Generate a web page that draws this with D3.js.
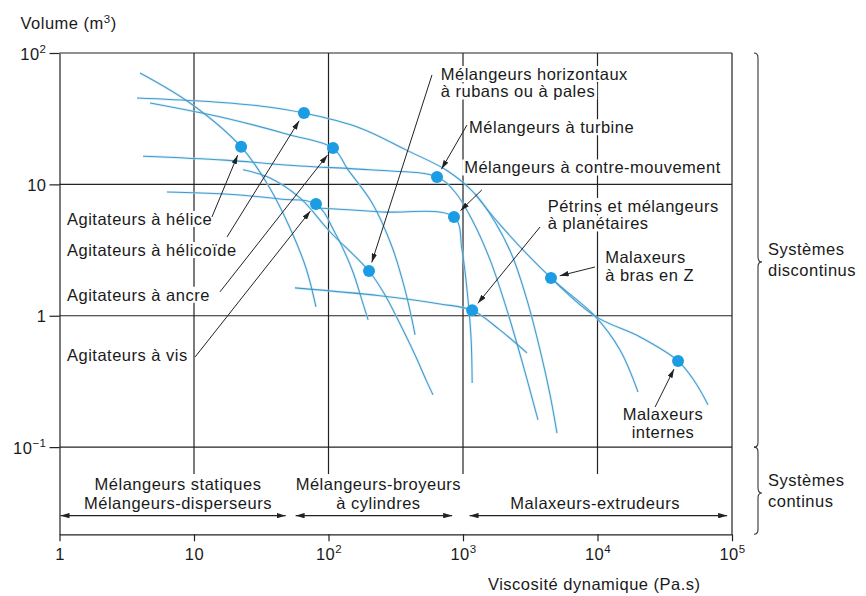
<!DOCTYPE html>
<html>
<head>
<meta charset="utf-8">
<script src="https://cdn.jsdelivr.net/npm/d3@7"></script>
<style>
body { margin: 0; background: #fff; }
text { font-family: "Liberation Sans", Arial, sans-serif; font-size: 16.5px; letter-spacing: 0.5px; fill: #1a1a1a; }
</style>
</head>
<body>
<svg id="chart" width="866" height="596"></svg>
<script>
// axis ticks
var xTicks = [1, 10, 100, 1000, 10000, 100000];
var xTickBase = ["1", "10", "10", "10", "10", "10"];
var xTickExp = ["", "", "2", "3", "4", "5"];
var yTicks = [100, 10, 1, 0.1];
var yTickBase = ["10", "10", "1", "10"];
var yTickExp = ["2", "", "", "\u22121"];

// curves [viscosity Pa.s, volume m3]
var helice = [[3.97,70.4],[9.34,41.6],[22.4,19.3],[35.5,9.9],[51.7,4.66],[68.0,2.31],[80.7,1.17]];
var helicoide = [[3.77,45.5],[11.1,43.1],[30.9,39.5],[65.7,34.9],[171,26.9],[377,18.3],[774,12.6],[1230,8.45],[1730,5.17],[2310,2.90],[2990,1.32],[3740,0.549],[4440,0.250],[5000,0.128]];
var ancre = [[4.71,41.6],[17.0,32.0],[51.7,23.8],[108,18.9],[140,12.9],[211,7.22],[297,3.34],[371,1.57],[418,0.929],[440,0.714]];
var vis = [[6.30,8.75],[17.0,8.45],[43.6,7.74],[80.7,7.09],[112,4.27],[150,2.23],[177,1.32],[197,0.929]];
var rubans = [[23.1,12.9],[36.7,11.2],[61.4,7.88],[103,4.34],[200,2.19],[263,1.44],[329,0.929],[440,0.503],[531,0.325],[598,0.250]];
var turbine = [[4.18,16.4],[17.0,15.3],[61.4,13.8],[204,12.9],[641,11.4],[872,8.75],[1170,5.36],[1590,2.66],[2120,1.11],[2790,0.425],[3610,0.161]];
var contre = [[83.6,6.61],[250,6.17],[857,5.65],[983,3.17],[1090,1.32],[1150,0.654],[1170,0.308]];
var petrins = [[56.3,1.63],[241,1.42],[675,1.23],[1170,1.10],[1880,0.780],[2990,0.521]];
var brasZ = [[1230,8.45],[1950,4.74],[4510,1.94],[9580,0.993],[14700,0.549],[20000,0.263]];
var internes = [[4510,1.94],[9580,0.993],[20700,0.690],[39700,0.453],[53100,0.313],[66300,0.210]];
var curves = [helice, helicoide, ancre, vis, rubans, turbine, contre, petrins, brasZ, internes];

// typical points
var dotVisc = [22.4, 65.7, 108, 80.7, 200, 641, 857, 1170, 4510, 39700];
var dotVol = [19.3, 34.9, 18.9, 7.09, 2.19, 11.4, 5.65, 1.10, 1.94, 0.453];

// labels: text lines, anchor [visc, vol], arrow start [visc, vol]
var labelLines = [
  ["Agitateurs à hélice"],
  ["Agitateurs à hélicoïde"],
  ["Agitateurs à ancre"],
  ["Agitateurs à vis"],
  ["Mélangeurs horizontaux", "à rubans ou à pales"],
  ["Mélangeurs à turbine"],
  ["Mélangeurs à contre-mouvement"],
  ["Pétrins et mélangeurs", "à planétaires"],
  ["Malaxeurs", "à bras en Z"],
  ["Malaxeurs", "internes"]
];
var labelAt = [[1.137,4.91],[1.137,2.85],[1.137,1.30],[1.137,0.453],[683,62.3],[1110,24.5],[1020,12.1],[4260,6.17],[11400,2.52],[30700,0.160]];
var arrowFrom = [[13.6,5.65],[17.6,3.98],[15.6,1.52],[10.2,0.486],[588,68.0],[1070,28.3],[1380,9.07],[3740,4.74],[9580,2.35],[26800,0.202]];

// continuous systems
var rangeLines = [["Mélangeurs statiques", "Mélangeurs-disperseurs"], ["Mélangeurs-broyeurs", "à cylindres"], ["Malaxeurs-extrudeurs"]];
var rangeFrom = [1, 56, 1100];
var rangeTo = [48, 830, 92000];
var rangeCenter = [7.6, 235, 9600];

var yBottom = 0.0217, gridBottom = 0.0625, rangeLevel = 0.0301;
var line1Vol = 0.0472, line2Vol = 0.0339;
var braceTips = [2.57, 0.0448];

var svg = d3.select("#chart");
var x = d3.scaleLog().domain([1, 1e5]).range([59.5, 732]);
var y = d3.scaleLog().domain([yBottom, 100]).range([534.3, 53]);

var defs = svg.append("defs");
defs.append("marker").attr("id", "head")
  .attr("viewBox", "0 0 10 6").attr("refX", 10).attr("refY", 3)
  .attr("markerWidth", 9).attr("markerHeight", 5.5).attr("markerUnits", "userSpaceOnUse")
  .attr("orient", "auto-start-reverse")
  .append("path").attr("d", "M0,0L10,3L0,6z").attr("fill", "#222");

// grid
var grid = svg.append("g").attr("stroke", "#222").attr("stroke-width", 1.2);
grid.selectAll("line.v").data([10, 100, 1000, 10000]).join("line")
  .attr("x1", function (d) { return x(d); }).attr("x2", function (d) { return x(d); })
  .attr("y1", y(100)).attr("y2", y(gridBottom));
grid.selectAll("line.h").data([10, 1, 0.1]).join("line")
  .attr("x1", x(1)).attr("x2", x(1e5))
  .attr("y1", function (d) { return y(d); }).attr("y2", function (d) { return y(d); });
grid.append("line").attr("x1", x(1)).attr("x2", x(1e5)).attr("y1", y(100)).attr("y2", y(100));
grid.append("line").attr("x1", x(1e5)).attr("x2", x(1e5)).attr("y1", y(100)).attr("y2", y(yBottom));

// axes
function supText(sel, bases, exps) {
  sel.text(null).each(function (d, i) {
    var t = d3.select(this);
    t.append("tspan").text(bases[i]);
    if (exps[i]) t.append("tspan").attr("dy", -7).attr("font-size", "11.5px").text(exps[i]);
  });
}
var xAxis = svg.append("g").attr("transform", "translate(0," + y(yBottom) + ")")
  .call(d3.axisBottom(x).tickValues(xTicks).tickSizeInner(7).tickSizeOuter(0).tickFormat(""));
xAxis.selectAll("text").remove();
xAxis.selectAll(".tick").append("text").attr("y", 26).attr("text-anchor", "middle")
  .call(supText, xTickBase, xTickExp);
var yAxis = svg.append("g").attr("transform", "translate(" + x(1) + ",0)")
  .call(d3.axisLeft(y).tickValues(yTicks).tickSizeInner(10).tickSizeOuter(0).tickFormat(""));
yAxis.selectAll("text").remove();
yAxis.selectAll(".tick").append("text").attr("x", -13).attr("y", 6).attr("text-anchor", "end")
  .call(supText, yTickBase, yTickExp);
svg.selectAll(".domain, .tick line").attr("stroke", "#222").attr("stroke-width", 1.2);

// label backgrounds cover the grid
var bg = svg.append("g");
var curveG = svg.append("g");
var arrowG = svg.append("g");
var dotG = svg.append("g");
var textG = svg.append("g");

function addLines(lines, px, py, anchor, gap) {
  lines.forEach(function (s, k) {
    var t = textG.append("text").attr("x", px).attr("y", py + k * gap).attr("text-anchor", anchor).text(s);
    var b = t.node().getBBox();
    bg.append("rect").attr("x", b.x - 2).attr("y", b.y + 1).attr("width", b.width + 4).attr("height", b.height - 2).attr("fill", "#fff");
  });
}

var lineGen = d3.line().x(function (d) { return x(d[0]); }).y(function (d) { return y(d[1]); }).curve(d3.curveCatmullRom.alpha(0.5));
curveG.selectAll("path.halo").data(curves).join("path")
  .attr("d", lineGen).attr("fill", "none").attr("stroke", "#b8e2f6").attr("stroke-width", 2.6).attr("opacity", 0.5);
curveG.selectAll("path.core").data(curves).join("path")
  .attr("d", lineGen).attr("fill", "none").attr("stroke", "#4499cc").attr("stroke-width", 1.05);

dotG.selectAll("circle").data(dotVisc).join("circle")
  .attr("cx", function (d) { return x(d); })
  .attr("cy", function (d, i) { return y(dotVol[i]); })
  .attr("r", 6).attr("fill", "#1b9ce3");

// arrows from labels to points
arrowFrom.forEach(function (p, i) {
  var x0 = x(p[0]), y0 = y(p[1]), x1 = x(dotVisc[i]), y1 = y(dotVol[i]);
  var L = Math.hypot(x1 - x0, y1 - y0), s = (L - 9) / L;
  arrowG.append("line").attr("x1", x0).attr("y1", y0)
    .attr("x2", x0 + (x1 - x0) * s).attr("y2", y0 + (y1 - y0) * s)
    .attr("stroke", "#222").attr("stroke-width", 1).attr("marker-end", "url(#head)");
});

labelLines.forEach(function (lines, i) {
  addLines(lines, x(labelAt[i][0]), y(labelAt[i][1]), i === 9 ? "middle" : "start", 17.5);
});

// continuous systems band
rangeFrom.forEach(function (a, i) {
  arrowG.append("line").attr("x1", x(a) + 1).attr("x2", x(rangeTo[i]))
    .attr("y1", y(rangeLevel)).attr("y2", y(rangeLevel))
    .attr("stroke", "#222").attr("stroke-width", 1.1)
    .attr("marker-start", "url(#head)").attr("marker-end", "url(#head)");
  var ls = rangeLines[i];
  var first = ls.length === 2 ? line1Vol : line2Vol;
  addLines(ls, x(rangeCenter[i]), y(first), "middle", y(line2Vol) - y(line1Vol));
});

// braces on the right
function brace(x0, top, bot, tip) {
  return "M" + (x0 - 4) + "," + top + "Q" + x0 + "," + top + " " + x0 + "," + (top + 5) +
    "L" + x0 + "," + (tip - 5) + "Q" + x0 + "," + tip + " " + (x0 + 4) + "," + tip +
    "Q" + x0 + "," + tip + " " + x0 + "," + (tip + 5) +
    "L" + x0 + "," + (bot - 5) + "Q" + x0 + "," + bot + " " + (x0 - 4) + "," + bot;
}
var braceG = svg.append("g").attr("fill", "none").attr("stroke", "#333").attr("stroke-width", 1.1);
braceG.append("path").attr("d", brace(758, y(100), y(0.1), y(braceTips[0])));
braceG.append("path").attr("d", brace(758, y(0.1), y(yBottom), y(braceTips[1])));
[["Systèmes", "discontinus"], ["Systèmes", "continus"]].forEach(function (ls, i) {
  ls.forEach(function (s, k) {
    svg.append("text").attr("x", 768).attr("y", y(braceTips[i]) - 7 + k * 21).text(s);
  });
});

// titles
var yt = svg.append("text").attr("x", 20.5).attr("y", 29);
yt.append("tspan").text("Volume (m");
yt.append("tspan").attr("dy", -6).attr("font-size", "11.5px").text("3");
yt.append("tspan").attr("dy", 6).text(")");
svg.append("text").attr("x", 488).attr("y", 590).text("Viscosité dynamique (Pa.s)");
</script>
</body>
</html>
